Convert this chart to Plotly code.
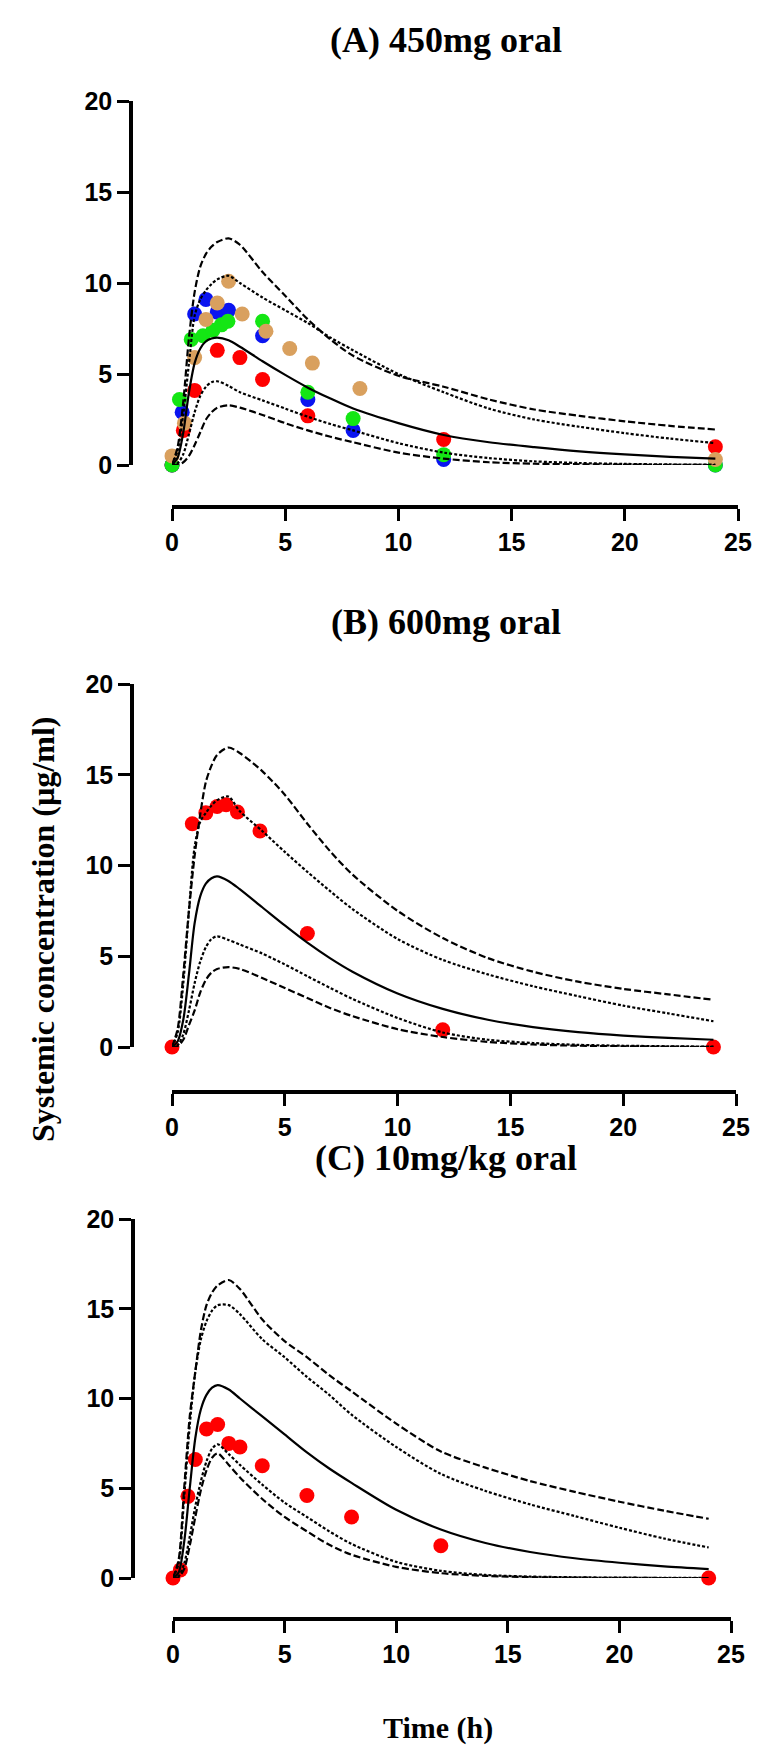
import plotly.graph_objects as go

# ---------------- data ----------------
T = [0, 0.25, 0.5, 0.75, 1, 1.25, 1.5, 1.75, 2, 2.5, 3, 4, 5, 6, 7, 8, 10, 12, 14, 16, 18, 20, 22, 24]

# Panel A (450 mg oral) simulated percentiles
A_p95 = [0, 1.0, 3.5, 7.0, 9.5, 10.9, 11.6, 12.0, 12.25, 12.45, 12.1, 10.6, 9.3, 8.0, 6.9, 6.0, 4.9, 4.3, 3.6, 3.05, 2.7, 2.4, 2.15, 1.95]
A_p90 = [0, 0.8, 2.8, 5.6, 8.2, 9.1, 9.6, 9.95, 10.2, 10.4, 10.0, 9.2, 8.5, 7.8, 7.0, 6.3, 5.0, 4.0, 3.1, 2.5, 2.1, 1.75, 1.45, 1.2]
A_p50 = [0, 0.4, 1.8, 4.0, 5.6, 6.4, 6.8, 6.95, 7.0, 6.85, 6.5, 5.7, 4.95, 4.25, 3.65, 3.1, 2.3, 1.65, 1.25, 0.98, 0.75, 0.58, 0.45, 0.35]
A_p10 = [0, 0.1, 0.6, 1.7, 2.9, 3.8, 4.3, 4.55, 4.6, 4.35, 4.0, 3.55, 3.1, 2.65, 2.25, 1.9, 1.2, 0.68, 0.38, 0.2, 0.11, 0.06, 0.03, 0.02]
A_p5 = [0, 0.02, 0.15, 0.5, 1.1, 1.8, 2.5, 2.9, 3.15, 3.28, 3.15, 2.75, 2.3, 1.9, 1.55, 1.25, 0.68, 0.35, 0.15, 0.07, 0.04, 0.02, 0.01, 0.0]

# Panel A observed subjects
A_red_t = [0, 0.5, 1, 2, 3, 4, 6, 12, 24]
A_red_c = [0, 1.9, 4.1, 6.3, 5.9, 4.7, 2.7, 1.4, 1.0]
A_blue_t = [0, 0.45, 1, 1.5, 2, 2.5, 4, 6, 8, 12, 24]
A_blue_c = [0, 2.9, 8.3, 9.1, 8.4, 8.5, 7.1, 3.6, 1.9, 0.3, 0.0]
A_green_t = [0, 0.33, 0.85, 1.37, 1.81, 2.18, 2.47, 4, 6, 8, 12, 24]
A_green_c = [0, 3.6, 6.9, 7.1, 7.4, 7.7, 7.9, 7.9, 4.0, 2.55, 0.57, 0.0]
A_orange_t = [0, 0.55, 1.0, 1.5, 2.0, 2.5, 3.1, 4.15, 5.2, 6.2, 8.3, 24]
A_orange_c = [0.5, 2.3, 5.9, 8.0, 8.9, 10.1, 8.3, 7.35, 6.4, 5.6, 4.2, 0.3]

# Panel B (600 mg oral)
B_p95 = [0, 1.0, 4.0, 7.5, 10.5, 12.8, 14.6, 15.5, 16.1, 16.5, 16.2, 15.2, 13.9, 12.3, 10.8, 9.5, 7.5, 6.0, 4.9, 4.15, 3.6, 3.2, 2.9, 2.6]
B_p90 = [0, 0.8, 3.5, 7.5, 11.0, 12.4, 12.9, 13.3, 13.6, 13.8, 13.0, 11.9, 10.75, 9.65, 8.6, 7.6, 5.95, 4.8, 4.0, 3.35, 2.8, 2.28, 1.85, 1.42]
B_p50 = [0, 0.3, 1.5, 4.0, 6.8, 8.3, 9.0, 9.3, 9.4, 9.15, 8.7, 7.7, 6.7, 5.75, 4.9, 4.15, 2.95, 2.1, 1.5, 1.1, 0.82, 0.63, 0.5, 0.4]
B_p10 = [0, 0.1, 0.7, 2.0, 3.5, 4.7, 5.5, 5.95, 6.1, 5.9, 5.65, 5.15, 4.55, 3.9, 3.26, 2.65, 1.6, 0.8, 0.4, 0.22, 0.12, 0.07, 0.04, 0.02]
B_p5 = [0, 0.05, 0.4, 1.2, 2.0, 3.0, 3.7, 4.1, 4.3, 4.4, 4.3, 3.8, 3.25, 2.7, 2.15, 1.7, 0.98, 0.55, 0.28, 0.14, 0.07, 0.04, 0.02, 0.01]
B_obs_t = [0, 0.9, 1.5, 2.0, 2.4, 2.9, 3.9, 6, 12, 24]
B_obs_c = [0, 12.3, 12.9, 13.25, 13.35, 12.95, 11.9, 6.25, 0.95, 0]

# Panel C (10 mg/kg oral)
C_p95 = [0, 1.0, 5.0, 9.0, 11.5, 13.8, 15.2, 15.9, 16.3, 16.6, 16.1, 14.4, 13.2, 12.3, 11.3, 10.4, 8.6, 7.05, 6.15, 5.4, 4.8, 4.25, 3.75, 3.3]
C_p90 = [0, 0.8, 4.5, 8.5, 11.5, 13.3, 14.3, 14.9, 15.2, 15.2, 14.7, 13.3, 12.3, 11.2, 10.2, 9.1, 7.3, 5.8, 4.85, 4.1, 3.45, 2.8, 2.2, 1.7]
C_p50 = [0, 0.3, 2.0, 5.0, 7.8, 9.4, 10.2, 10.6, 10.75, 10.5, 10.0, 9.0, 8.0, 7.0, 6.1, 5.3, 3.8, 2.7, 1.95, 1.45, 1.1, 0.85, 0.65, 0.5]
C_p10 = [0, 0.1, 0.8, 2.3, 4.0, 5.4, 6.5, 7.2, 7.45, 6.9, 6.3, 5.2, 4.2, 3.4, 2.6, 1.9, 0.9, 0.4, 0.17, 0.08, 0.04, 0.02, 0.01, 0.0]
C_p5 = [0, 0.05, 0.5, 1.8, 3.4, 4.9, 6.0, 6.7, 6.95, 6.3, 5.6, 4.4, 3.4, 2.6, 1.85, 1.3, 0.62, 0.27, 0.12, 0.05, 0.02, 0.01, 0.0, 0.0]
C_obs_t = [0, 0.33, 0.67, 1, 1.5, 2, 2.5, 3, 4, 6, 8, 12, 24]
C_obs_c = [0, 0.45, 4.55, 6.6, 8.3, 8.55, 7.5, 7.3, 6.25, 4.6, 3.4, 1.8, 0]

panel_titles = ["(A) 450mg oral", "(B) 600mg oral", "(C) 10mg/kg oral"]
x_ticks = [0, 5, 10, 15, 20, 25]
y_ticks = [0, 5, 10, 15, 20]

# ---------------- styling ----------------
W, H = 761, 1749
RED, BLUE, GREEN, ORANGE = "#FF0000", "#0A14F0", "#14E614", "#D9A05E"
MS = 15
LW = 2.2
OUTER_DASH = "7px,3px"
INNER_DASH = "3px,2px"


def px_x(p):
    return p / W


def px_y(p):
    return 1 - p / H


fig = go.Figure()

panels = [
    dict(ax="", curves=(A_p95, A_p90, A_p50, A_p10, A_p5),
         obs=[(A_red_t, A_red_c, RED), (A_blue_t, A_blue_c, BLUE),
              (A_green_t, A_green_c, GREEN), (A_orange_t, A_orange_c, ORANGE)],
         xdom=(164, 730), ydom=(93, 457), xline=499, yline=123, title_y=32),
    dict(ax="2", curves=(B_p95, B_p90, B_p50, B_p10, B_p5),
         obs=[(B_obs_t, B_obs_c, RED)],
         xdom=(164, 728), ydom=(676, 1039), xline=1084, yline=124, title_y=614),
    dict(ax="3", curves=(C_p95, C_p90, C_p50, C_p10, C_p5),
         obs=[(C_obs_t, C_obs_c, RED)],
         xdom=(165, 723), ydom=(1211, 1570), xline=1611, yline=125, title_y=1150),
]

tick_font = dict(family="Liberation Sans, Arial", size=25, color="black", weight="bold")

for i, p in enumerate(panels):
    xa, ya = "x" + p["ax"], "y" + p["ax"]
    for t, c, col in p["obs"]:
        fig.add_trace(go.Scatter(x=t, y=c, mode="markers", xaxis=xa, yaxis=ya,
                                 marker=dict(size=MS, color=col, line=dict(width=0)),
                                 cliponaxis=False, showlegend=False))
    styles = [OUTER_DASH, INNER_DASH, "solid", INNER_DASH, OUTER_DASH]
    for curve, dash in zip(p["curves"], styles):
        fig.add_trace(go.Scatter(x=T, y=curve, mode="lines", xaxis=xa, yaxis=ya,
                                 line=dict(color="black", width=LW, dash=dash,
                                           shape="spline", smoothing=0.8),
                                 cliponaxis=False, showlegend=False))

    xkey = "xaxis" + p["ax"]
    ykey = "yaxis" + p["ax"]
    axis_common = dict(showline=True, linecolor="black", linewidth=3.5,
                       ticks="outside", ticklen=12, tickwidth=3, tickcolor="black",
                       showgrid=False, zeroline=False, tickfont=tick_font,
                       automargin=False, fixedrange=True)
    fig.update_layout(**{
        xkey: dict(axis_common, domain=[px_x(p["xdom"][0]), px_x(p["xdom"][1])],
                   range=[0, 25], tickvals=x_ticks, ticktext=[str(v) for v in x_ticks],
                   anchor="free", position=px_y(p["xline"])),
        ykey: dict(axis_common, domain=[px_y(p["ydom"][1]), px_y(p["ydom"][0])],
                   range=[0, 20], tickvals=y_ticks, ticktext=[str(v) for v in y_ticks],
                   anchor="free", position=px_x(p["yline"])),
    })
    fig.add_annotation(text=panel_titles[i], xref="paper", yref="paper",
                       x=px_x(438), y=px_y(p["title_y"]), showarrow=False,
                       xanchor="center", yanchor="middle",
                       font=dict(family="Liberation Serif, Times New Roman", size=36,
                                 color="black", weight="bold"))

fig.add_annotation(text="Systemic concentration (µg/ml)", xref="paper", yref="paper",
                   x=px_x(35), y=px_y(922), showarrow=False, textangle=-90,
                   xanchor="center", yanchor="middle",
                   font=dict(family="Liberation Serif, Times New Roman", size=32,
                             color="black", weight="bold"))
fig.add_annotation(text="Time (h)", xref="paper", yref="paper",
                   x=px_x(430), y=px_y(1720), showarrow=False,
                   xanchor="center", yanchor="middle",
                   font=dict(family="Liberation Serif, Times New Roman", size=30,
                             color="black", weight="bold"))

fig.update_layout(width=W, height=H, margin=dict(l=0, r=0, t=0, b=0),
                  paper_bgcolor="white", plot_bgcolor="white", showlegend=False)

fig.write_html("out.html")
